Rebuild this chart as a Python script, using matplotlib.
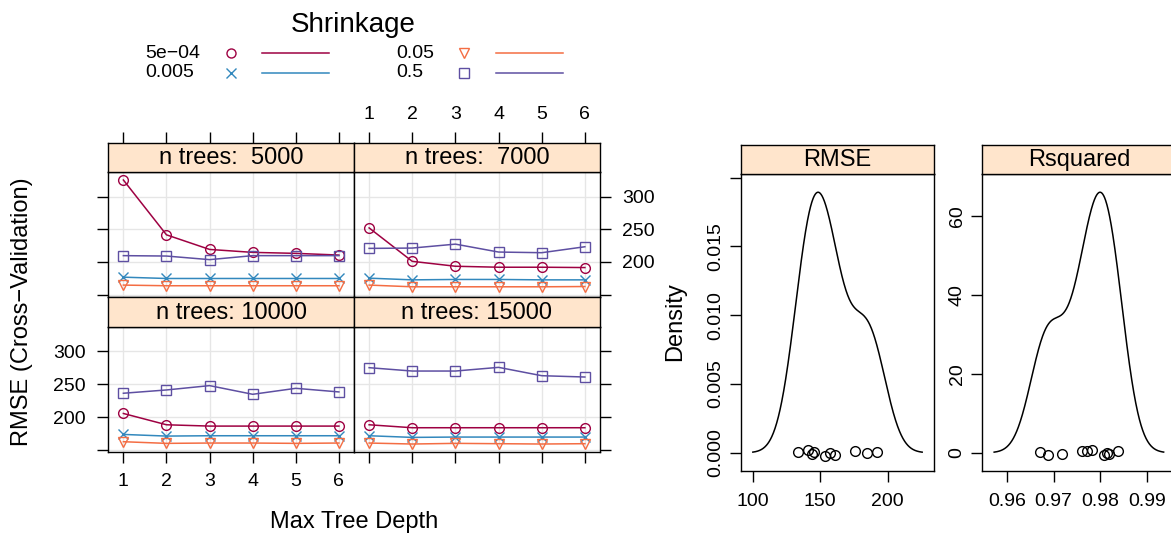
import numpy as np
import matplotlib
matplotlib.use("Agg")
import matplotlib.pyplot as plt
from matplotlib.lines import Line2D

plt.rcParams['font.family'] = ['Liberation Sans', 'DejaVu Sans']
plt.rcParams['axes.linewidth'] = 1.0

W, H = 1171, 534

# ---- tuning grid results --------------------------------------------------
depth = [1, 2, 3, 4, 5, 6]
shrinkage = ["5e\u221204", "0.005", "0.05", "0.5"]
ntrees_strips = ["n trees:  5000", "n trees:  7000", "n trees: 10000", "n trees: 15000"]

# RMSE per shrinkage level (rows) for each number of trees
rmse_5000 = [
    [325.3, 241.5, 219.2, 214.7, 213.2, 210.6],
    [176.8, 174.8, 174.8, 174.8, 174.8, 174.8],
    [164.7, 163.7, 163.7, 163.7, 163.7, 163.7],
    [209.7, 209.1, 203.6, 209.7, 209.7, 209.7],
]
rmse_7000 = [
    [252.1, 201.0, 193.5, 192.0, 192.0, 191.5],
    [175.3, 172.7, 173.3, 173.3, 172.7, 172.7],
    [164.7, 162.1, 162.1, 162.1, 162.1, 162.5],
    [220.8, 221.3, 227.3, 215.2, 214.2, 223.3],
]
rmse_10000 = [
    [205.6, 188.4, 186.4, 186.4, 186.4, 186.4],
    [173.7, 171.2, 171.7, 171.7, 171.7, 171.7],
    [162.6, 160.1, 160.6, 160.6, 160.1, 160.6],
    [236.4, 241.4, 248.0, 234.8, 243.9, 238.4],
]
rmse_15000 = [
    [188.4, 183.9, 183.9, 183.9, 183.9, 183.9],
    [171.7, 169.2, 169.7, 169.7, 169.7, 169.7],
    [160.6, 159.1, 160.1, 159.6, 159.1, 159.6],
    [275.3, 270.2, 270.2, 275.8, 263.1, 261.1],
]
y_ticks = [150, 200, 250, 300]
y_ticklabels = ["", "200", "250", "300"]

# ---- resampling distributions -------------------------------------------
rmse_resamples = [133.6, 141.0, 143.9, 145.2, 153.8, 157.3, 161.2, 175.6, 184.7, 192.1]
rmse_jitter = [0.00007, 0.00019, -0.00012, 0.00005, -0.00024, 0.0, -0.00017, 0.0001, 0.0, 0.00007]
rsq_resamples = [0.96707, 0.96886, 0.97185, 0.97614, 0.97721, 0.97829,
                 0.98078, 0.98136, 0.98179, 0.98372]
rsq_jitter = [0.08, -0.5, -0.43, 0.4, 0.33, 0.58, -0.6, -0.18, -0.25, 0.5]

colors = ["#9E0142", "#3288BD", "#F46D43", "#5E4FA2"]
markers = ["o", "x", "v", "s"]
strip_col = "#FFE5CC"
grid_col = "#E6E6E6"

TICK_FS = 14
STRIP_FS = 17
LAB_FS = 17

fig = plt.figure(figsize=(W / 100, H / 100), dpi=100)


def add_ax(l, t, r, b):
    return fig.add_axes([l / W, 1 - b / H, (r - l) / W, (b - t) / H])


def fx(x):
    return x / W


def fy(y):
    return 1 - y / H


# ---- lattice of RMSE vs depth ----------------------------------------------
col_x = [(108.3, 354.0), (354.0, 600.0)]
rows = [dict(strip=(142.7, 171.7), data=(171.7, 297.0)),
        dict(strip=(297.0, 326.5), data=(326.5, 452.3))]
panels = [rmse_5000, rmse_7000, rmse_10000, rmse_15000]
xlim = (0.65, 6.35)
ylim = (146.5, 338.0)

for k, (series, label) in enumerate(zip(panels, ntrees_strips)):
    r, c = divmod(k, 2)
    l, rr = col_x[c]
    st, sb = rows[r]["strip"]
    dt, db = rows[r]["data"]
    ax = add_ax(l, dt, rr, db)
    sax = add_ax(l, st, rr, sb)

    ax.set_xlim(*xlim)
    ax.set_ylim(*ylim)
    for xv in depth:
        ax.axvline(xv, color=grid_col, lw=1.0, zorder=0)
    for yv in y_ticks:
        ax.axhline(yv, color=grid_col, lw=1.0, zorder=0)
    for vals, col, mk in zip(series, colors, markers):
        ax.plot(depth, vals, color=col, lw=1.1, marker=mk, ms=7,
                mfc="none", mec=col, mew=1.0, zorder=3)

    ax.set_xticks(depth)
    ax.set_yticks(y_ticks)
    ax.tick_params(direction="out", length=8, width=1.0, labelsize=TICK_FS)
    ax.tick_params(axis="y", pad=8)
    ax.tick_params(axis="x", pad=7)
    # y axis alternates between left and right columns
    if c == 0:
        ax.tick_params(left=True, right=False, labelleft=(r == 1), labelright=False)
        ax.set_yticklabels(y_ticklabels)
    else:
        ax.tick_params(left=False, right=True, labelleft=False, labelright=(r == 0))
        ax.set_yticklabels(y_ticklabels)
    # x axis: bottom on lower row, top (above strip) on upper row
    if r == 1:
        ax.tick_params(bottom=True, top=False, labelbottom=(c == 0), labeltop=False)
        ax.set_xticklabels([str(d) for d in depth])
    else:
        ax.tick_params(bottom=False, top=False, labelbottom=False, labeltop=False)

    sax.set_facecolor(strip_col)
    sax.set_xlim(*xlim)
    sax.set_yticks([])
    sax.text(0.5, 0.47, label, transform=sax.transAxes, ha="center", va="center",
             fontsize=STRIP_FS)
    if r == 0:
        sax.set_xticks(depth)
        sax.set_xticklabels([str(d) for d in depth])
        sax.tick_params(direction="out", length=8, width=1.0, labelsize=TICK_FS, pad=6,
                        bottom=False, top=True, labelbottom=False, labeltop=(c == 1))
    else:
        sax.set_xticks([])

fig.text(fx(22), fy(312), "RMSE (Cross\u2212Validation)", rotation=90,
         ha="center", va="center", fontsize=LAB_FS)
fig.text(fx(354), fy(522), "Max Tree Depth", ha="center", va="center", fontsize=LAB_FS)

# ---- legend ----------------------------------------------------------------
fig.text(fx(353), fy(25), "Shrinkage", ha="center", va="center", fontsize=20)
leg_pos = [(145.7, 230.7, 262.0, 329.0, 53.0), (145.7, 230.7, 262.0, 329.0, 72.7),
           (396.0, 464.0, 495.6, 562.7, 53.0), (396.0, 464.0, 495.6, 562.7, 72.7)]
for (tx, mx, lx0, lx1, yy), lab, col, mk in zip(leg_pos, shrinkage, colors, markers):
    fig.text(fx(tx), fy(yy), lab, ha="left", va="center", fontsize=TICK_FS)
    fig.add_artist(Line2D([fx(mx)], [fy(yy)], transform=fig.transFigure, marker=mk,
                          ms=6.5, mfc="none", mec=col, mew=1.0, ls="none"))
    fig.add_artist(Line2D([fx(lx0), fx(lx1)], [fy(yy), fy(yy)], transform=fig.transFigure,
                          color=col, lw=1.1))


# ---- density plots -----------------------------------------------------------
def kde(values):
    v = np.asarray(values, dtype=float)
    n = len(v)
    sd = v.std(ddof=1)
    q75, q25 = np.percentile(v, [75, 25])
    bw = 0.9 * min(sd, (q75 - q25) / 1.34) * n ** -0.2
    grid = np.linspace(v.min() - 3 * bw, v.max() + 3 * bw, 512)
    dens = np.exp(-0.5 * ((grid[:, None] - v[None, :]) / bw) ** 2).sum(axis=1)
    dens /= n * bw * np.sqrt(2 * np.pi)
    return grid, dens


def padded(lo, hi, f=0.07):
    d = (hi - lo) * f
    return lo - d, hi + d


dens_panels = [
    dict(name="RMSE", vals=rmse_resamples, jit=rmse_jitter, x=(741.0, 934.0),
         xt=[100, 150, 200], xtl=["100", "150", "200"],
         yt=[0, 0.005, 0.010, 0.015, 0.020], ytl=["0.000", "0.005", "0.010", "0.015", ""]),
    dict(name="Rsquared", vals=rsq_resamples, jit=rsq_jitter, x=(982.3, 1175.5),
         xt=[0.96, 0.97, 0.98, 0.99], xtl=["0.96", "0.97", "0.98", "0.99"],
         yt=[0, 20, 40, 60], ytl=["0", "20", "40", "60"]),
]
for p in dens_panels:
    l, r = p["x"]
    ax = add_ax(l, 174.0, r, 471.0)
    sax = add_ax(l, 145.0, r, 174.0)
    g, d = kde(p["vals"])
    ax.plot(g, d, color="black", lw=1.1)
    ax.plot(p["vals"], p["jit"], "o", ms=7, mfc="none", mec="black", mew=1.0)
    ax.set_xlim(*padded(g.min(), g.max()))
    ax.set_ylim(*padded(0, d.max()))
    ax.set_xticks(p["xt"])
    ax.set_xticklabels(p["xtl"])
    ax.set_yticks(p["yt"])
    ax.set_yticklabels(p["ytl"], rotation=90, va="center")
    ax.tick_params(direction="out", length=8, width=1.0, labelsize=TICK_FS)
    ax.tick_params(axis="x", pad=8)
    ax.tick_params(axis="y", pad=4)
    sax.set_facecolor(strip_col)
    sax.set_xticks([])
    sax.set_yticks([])
    sax.text(0.5, 0.47, p["name"], transform=sax.transAxes, ha="center", va="center",
             fontsize=STRIP_FS)

fig.text(fx(675), fy(322), "Density", rotation=90, ha="center", va="center", fontsize=LAB_FS)

fig.savefig("out.png", dpi=100, facecolor="white")
